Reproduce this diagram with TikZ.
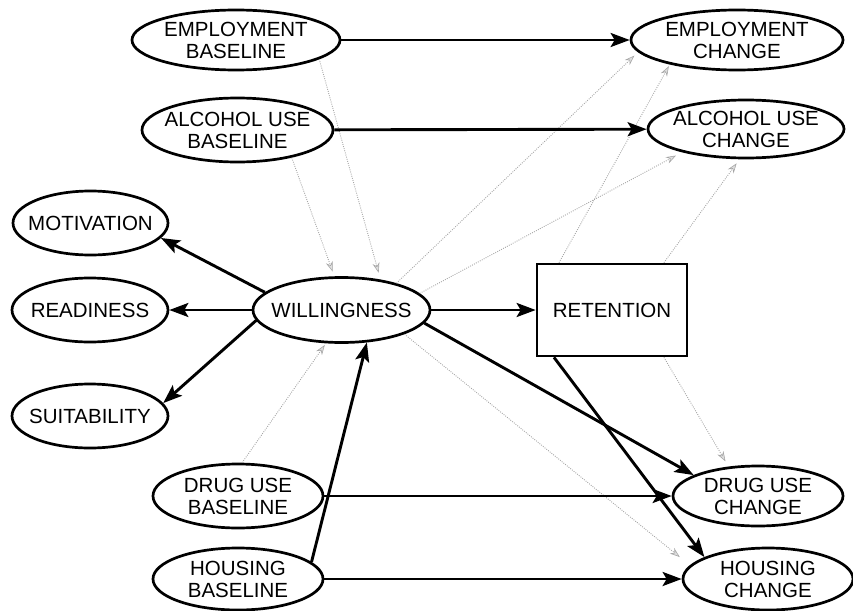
\documentclass[tikz,border=0pt]{standalone}
\usepackage{fontspec}
\setmainfont{Liberation Sans}
\usetikzlibrary{shapes.geometric,arrows.meta,calc}
\begin{document}
\begin{tikzpicture}[x=1pt,y=-1pt,
  ell/.style={ellipse,draw,line width=2.7pt,inner sep=0pt,fill=white},
  txt/.style={font=\fontsize{20.5}{22}\selectfont,align=center,inner sep=0pt},
  boxnode/.style={rectangle,draw,line width=2.7pt,inner sep=0pt,fill=white},
  solidarr/.style={line width=2.9pt,-{Stealth[length=19pt,width=14pt,inset=4pt]}},
  corr/.style={gray!70,line width=0.9pt,dash pattern=on 0.9pt off 1.3pt,
    -{Stealth[length=10pt,width=7pt,fill=gray!25,line width=0.6pt]}}
]
\useasboundingbox (0,0) rectangle (853,610);

% nodes
\node[ell,minimum width=208pt,minimum height=60pt,label={[txt]center:{EMPLOYMENT\\BASELINE}}] (empB) at (236,40) {};
\node[ell,minimum width=191pt,minimum height=64pt,label={[txt]center:{ALCOHOL USE\\BASELINE}}] (alcB) at (237.5,130) {};
\node[ell,minimum width=212pt,minimum height=60pt,label={[txt]center:{EMPLOYMENT\\CHANGE}}] (empC) at (737,40) {};
\node[ell,minimum width=196pt,minimum height=58pt,label={[txt]center:{ALCOHOL USE\\CHANGE}}] (alcC) at (746,129) {};
\node[ell,minimum width=155pt,minimum height=64pt,label={[txt]center:MOTIVATION}] (mot) at (90.5,223) {};
\node[ell,minimum width=156pt,minimum height=64pt,label={[txt]center:READINESS}] (rea) at (90,310) {};
\node[ell,minimum width=156pt,minimum height=64pt,label={[txt]center:SUITABILITY}] (sui) at (90,416) {};
\node[ell,minimum width=177pt,minimum height=65pt,label={[txt]center:WILLINGNESS}] (wil) at (341.5,310) {};
\node[boxnode,minimum width=150pt,minimum height=92pt,label={[txt]center:RETENTION}] (ret) at (612,310) {};
\node[ell,minimum width=170pt,minimum height=60pt,label={[txt]center:{DRUG USE\\CHANGE}}] (drugC) at (758,496) {};
\node[ell,minimum width=170pt,minimum height=62pt,label={[txt]center:{HOUSING\\CHANGE}}] (housC) at (768,579) {};
\node[ell,minimum width=170pt,minimum height=64pt,label={[txt]center:{DRUG USE\\BASELINE}}] (drugB) at (238,496) {};
\node[ell,minimum width=170pt,minimum height=62pt,label={[txt]center:{HOUSING\\BASELINE}}] (housB) at (238,579) {};

% anchor points on the retention box
\coordinate (retTL) at ($(ret.north west)!0.153!(ret.north east)$);
\coordinate (retTR) at ($(ret.north west)!0.84!(ret.north east)$);
\coordinate (retBL) at ($(ret.south west)!0.12!(ret.south east)$);
\coordinate (retBR) at ($(ret.south west)!0.84!(ret.south east)$);

% correlation (dotted) connectors
\draw[corr,shorten >=7pt] (empB.-13) -- (wil.38);
\draw[corr,shorten >=5pt] (alcB.-27) -- (wil.102);
\draw[corr,shorten >=5pt] (wil.26) -- (empC.187);
\draw[corr,shorten >=7pt] (wil.12) -- (alcC.200);
\draw[corr,shorten >=2pt] (retTL) -- (empC.200);
\draw[corr,shorten >=5pt] (retTR) -- (alcC.258);
\draw[corr,shorten >=2pt] (drugB.83) -- (wil.245);
\draw[corr,shorten >=13pt] (wil.-21) -- (housC.170);
\draw[corr,shorten >=6pt] (retBR) -- (drugC.135);

% solid paths
\draw[solidarr] (empB) -- (empC);
\draw[solidarr] (alcB) -- (alcC);
\draw[solidarr] (wil.167) -- (mot.-12);
\draw[solidarr] (wil) -- (rea);
\draw[solidarr] (wil.187) -- (sui.10);
\draw[solidarr] (wil) -- (ret);
\draw[solidarr] (wil.-9) -- (drugC.162);
\draw[solidarr] (retBL) -- (housC.161);
\draw[solidarr] (drugB) -- (drugC);
\draw[solidarr] (housB) -- (housC);
\draw[solidarr] (housB.13) -- (wil.-52);
\end{tikzpicture}
\end{document}
